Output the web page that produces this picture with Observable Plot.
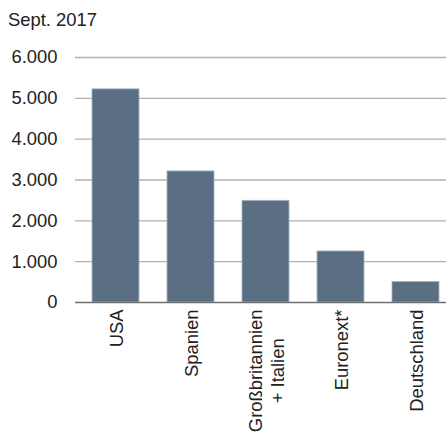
<!DOCTYPE html>
<html><head><meta charset="utf-8">
<script src="https://cdn.jsdelivr.net/npm/d3@7"></script>
<script src="https://cdn.jsdelivr.net/npm/@observablehq/plot@0.6"></script>
<style>
body{margin:0;background:#fff;font-family:"Liberation Sans",Arial,sans-serif;}
#title{position:absolute;left:8px;top:9px;font-size:18.4px;color:#222;}
#chart{position:absolute;left:0;top:0;}
</style></head><body>
<div id="title">Sept. 2017</div>
<div id="chart"></div>
<script>
const categories = ["USA", "Spanien", "Großbritannien\n+ Italien", "Euronext*", "Deutschland"];
const values = [5220, 3210, 2490, 1250, 500];
const yTicks = [0, 1000, 2000, 3000, 4000, 5000, 6000];

const data = categories.map((c, i) => ({cat: c, v: values[i]}));
const fmt = d => d3.format(",")(d).replace(/,/g, ".");

const chart = Plot.plot({
  width: 446, height: 435,
  marginLeft: 75, marginRight: 0, marginTop: 57, marginBottom: 133,
  style: {fontFamily: "Liberation Sans, Arial, sans-serif", fontSize: "18.4px", color: "#222", background: "transparent"},
  x: {domain: categories, padding: 0.38, paddingOuter: 0.137, align: 0.69, label: null},
  y: {domain: [0, 6000], label: null},
  marks: [
    Plot.ruleY(yTicks.filter(d => d > 0), {stroke: "#b0b0b0", strokeWidth: 1.3, strokeOpacity: 1}),
    Plot.barY(data, {x: "cat", y: "v", fill: "#5b6f84", stroke: "#a9b4c0", strokeWidth: 0.8}),
    Plot.ruleY([0], {stroke: "#707070", strokeWidth: 1.3}),
    Plot.axisY({ticks: yTicks, tickFormat: fmt, tickSize: 0, tickPadding: 18, label: null}),
    Plot.axisX({tickSize: 0, tickPadding: 7, tickRotate: -90, label: null, lineHeight: 1.2})
  ]
});
document.getElementById("chart").appendChild(chart);

// center each line of multi-line x labels on the longest line (as in the original)
chart.querySelectorAll('g[aria-label="x-axis tick label"] text').forEach(el => {
  const spans = el.querySelectorAll("tspan");
  if (!spans.length) return;
  const w = el.getBBox().width;
  el.setAttribute("text-anchor", "middle");
  el.style.textAnchor = "middle";
  spans.forEach(s => { s.setAttribute("x", -w / 2); s.style.textAnchor = "middle"; });
});
</script>
</body></html>
